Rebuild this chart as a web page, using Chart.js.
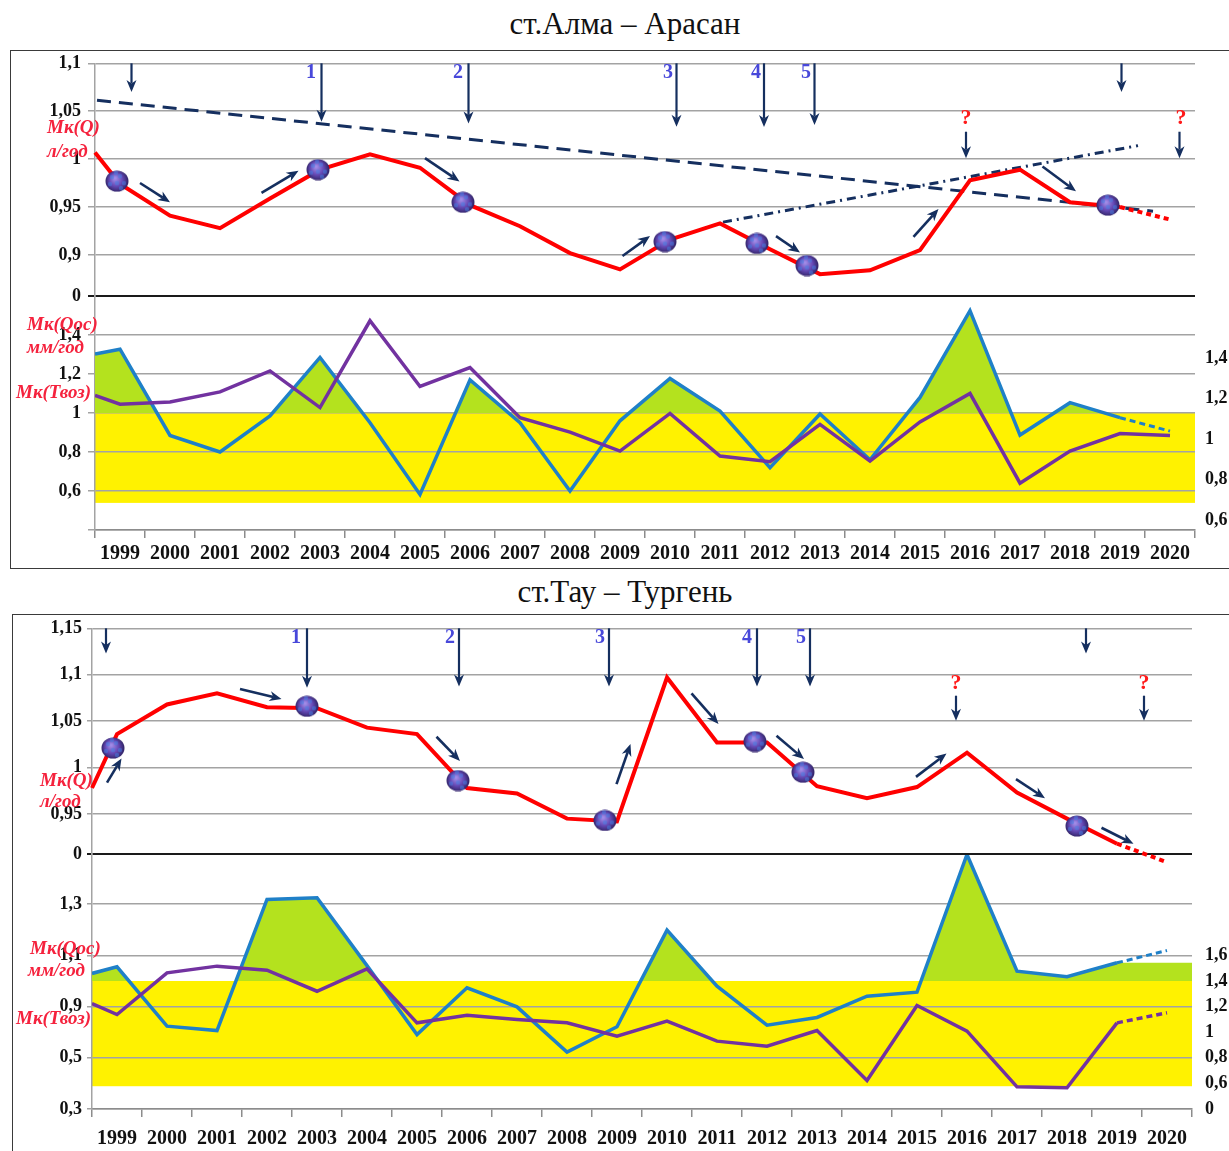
<!DOCTYPE html>
<html><head><meta charset="utf-8">
<script src="https://cdn.jsdelivr.net/npm/chart.js@4.4.1/dist/chart.umd.min.js"></script>
<style>
html,body{margin:0;padding:0;background:#fff;}
body{width:1229px;height:1151px;position:relative;overflow:hidden;font-family:'Liberation Serif','Times New Roman',serif;}
canvas{position:absolute;left:0;}
.box{position:absolute;border:1.5px solid #3a3a3a;box-sizing:border-box;z-index:0;}
.title{position:absolute;font-size:31px;color:#111;white-space:nowrap;transform:translateX(-50%);line-height:36px;z-index:5;}
.ax{position:absolute;color:#f5223d;font-style:italic;font-weight:bold;font-size:19px;white-space:nowrap;line-height:20px;z-index:5;}
</style></head><body>
<div class="box" style="left:10px;top:50px;width:1240px;height:519px"></div>
<div class="box" style="left:12px;top:614px;width:1240px;height:570px"></div>
<div class="title" style="left:625px;top:6px">ст.Алма – Арасан</div>
<div class="title" style="left:625px;top:574px">ст.Тау – Тургень</div>

<canvas id="c1b" width="1229" height="288" style="top:280px;z-index:1"></canvas>
<canvas id="c1a" width="1229" height="262" style="top:50px;z-index:2"></canvas>
<canvas id="c2b" width="1229" height="311" style="top:840px;z-index:1"></canvas>
<canvas id="c2a" width="1229" height="256" style="top:614px;z-index:2"></canvas>

<div class="ax" style="left:47px;top:117px">Мк(Q)</div>
<div class="ax" style="left:47px;top:141px">л/год</div>
<div class="ax" style="left:27px;top:314px">Мк(Qос)</div>
<div class="ax" style="left:27px;top:337px">мм/год</div>
<div class="ax" style="left:16px;top:382px">Мк(Твоз)</div>

<div class="ax" style="left:40px;top:770px">Мк(Q)</div>
<div class="ax" style="left:40px;top:791px">л/год</div>
<div class="ax" style="left:30px;top:938px">Мк(Qос)</div>
<div class="ax" style="left:28px;top:960px">мм/год</div>
<div class="ax" style="left:16px;top:1008px">Мк(Твоз)</div>

<script>
// ---------- DATA ----------
const years = [1999,2000,2001,2002,2003,2004,2005,2006,2007,2008,2009,2010,2011,2012,2013,2014,2015,2016,2017,2018,2019,2020];
const xStart = 1998.5, xEnd = 2020.5;

// ст.Алма – Арасан
const almaQStart = 1.007;
const almaQ = [0.974,0.941,0.928,0.959,0.989,1.005,0.991,0.952,0.930,0.902,0.885,0.916,0.933,0.906,0.880,0.884,0.905,0.978,0.989,0.955,0.950,0.937];
const almaBallX = [1998.94,2002.96,2005.86,2009.9,2011.74,2012.74,2018.76];
const almaBallY = [0.977,0.989,0.955,0.914,0.912,0.889,0.952];
const almaTrendDash = [[1998.54,1.0615],[2019.66,0.9457]];
const almaTrendDashDot = [[2011.06,0.9343],[2019.36,1.0141]];
const almaOStart = 1.302;
const almaO = [1.327,0.885,0.80,0.985,1.285,0.95,0.582,1.17,0.95,0.60,0.96,1.177,1.01,0.72,0.995,0.76,1.08,1.525,0.887,1.053,0.976,0.907];
const almaTStart = 1.09;
const almaT = [1.045,1.057,1.108,1.216,1.028,1.473,1.136,1.233,0.976,0.902,0.805,0.998,0.779,0.75,0.942,0.753,0.954,1.10,0.64,0.805,0.895,0.885];
const almaBand = [0.539, 1.0];
const almaUpperTicks = [0.8572,0.9,0.95,1,1.05,1.1];
const almaUpperLabels = ['0','0,9','0,95','1','1,05','1,1'];
const almaLowerTicks = [0.4,0.6,0.8,1,1.2,1.4,1.6];
const almaLowerLabels = ['','0,6','0,8','1','1,2','1,4',''];
const almaRightTicks = [0.6,0.8,1,1.2,1.4];
const almaRightLabels = ['0,6','0,8','1','1,2','1,4'];
const almaVArrows = [[1999.23,1.1,1.0701],[2003.03,1.1,1.039],[2005.97,1.1,1.0373],[2010.13,1.1,1.0338],[2011.88,1.1,1.0335],[2012.89,1.1,1.0356],[2019.03,1.1,1.0701],[2015.92,1.0286,1.001],[2020.19,1.0286,1.001]];
const almaDArrows = [[1999.4,0.9751,2000.0,0.955],[2001.83,0.9647,2002.57,0.9879],[2005.1,1.001,2005.79,0.9768],[2009.05,0.899,2009.6,0.9197],[2012.12,0.9197,2012.6,0.9025],[2014.87,0.919,2015.37,0.948],[2017.45,0.9923,2018.12,0.9664]];
const almaNums = [['1',2002.82,1.0905],['2',2005.76,1.0905],['3',2009.96,1.0905],['4',2011.72,1.0905],['5',2012.72,1.0905]];
const almaQMarks = [[2015.92,1.0428],[2020.22,1.0428]];

// ст.Тау – Тургень
const tauQStart = 0.978;
const tauQ = [1.036,1.068,1.080,1.065,1.064,1.043,1.036,0.978,0.972,0.945,0.942,1.097,1.027,1.027,0.980,0.967,0.979,1.016,0.973,0.945,0.918,0.898];
const tauBallX = [1998.92,2002.8,2005.82,2008.76,2011.76,2012.72,2018.2];
const tauBallY = [1.021,1.066,0.986,0.943,1.028,0.995,0.937];
const tauOStart = 1.459;
const tauO = [1.511,1.047,1.013,2.037,2.05,1.52,0.982,1.347,1.198,0.844,1.042,1.797,1.359,1.055,1.115,1.281,1.3125,2.388,1.477,1.433,1.542,1.638];
const tauTStart = 1.224;
const tauT = [1.138,1.464,1.516,1.484,1.32,1.495,1.073,1.133,1.099,1.073,0.969,1.086,0.93,0.891,1.013,0.623,1.209,1.008,0.573,0.566,1.073,1.152];
const tauBand = [0.578, 1.4];
const tauGreenExt = 1.542;
const tauUpperTicks = [0.9069,0.95,1,1.05,1.1,1.15];
const tauUpperLabels = ['0','0,95','1','1,05','1,1','1,15'];
const tauLowerTicks = [0.4,0.8,1.2,1.6,2.0,2.392];
const tauLowerLabels = ['0,3','0,5','0,9','1,1','1,3',''];
const tauRightTicks = [0.4,0.6,0.8,1,1.2,1.4,1.6];
const tauRightLabels = ['0','0,6','0,8','1','1,2','1,4','1,6'];
const tauVArrows = [[1998.78,1.15,1.1228],[2002.8,1.15,1.0861],[2005.84,1.15,1.0872],[2008.84,1.15,1.0872],[2011.8,1.15,1.0872],[2012.86,1.15,1.0872],[2018.38,1.15,1.1228],[2015.78,1.0774,1.0504],[2019.54,1.0774,1.0504]];
const tauDArrows = [[1998.8,0.9838,1999.09,1.0097],[2001.46,1.0847,2002.29,1.0739],[2005.39,1.0332,2005.86,1.0072],[2008.99,0.9821,2009.27,1.0253],[2010.49,1.0799,2011.03,1.0469],[2012.19,1.0342,2012.74,1.0091],[2014.98,0.99,2015.59,1.0151],[2016.98,0.9875,2017.56,0.967],[2018.69,0.9352,2019.33,0.9179]];
const tauNums = [['1',2002.58,1.14],['2',2005.66,1.14],['3',2008.66,1.14],['4',2011.6,1.14],['5',2012.68,1.14]];
const tauQMarks = [[2015.78,1.0904],[2019.54,1.0904]];

// ---------- STYLE ----------
const SERIF = "'Liberation Serif','Times New Roman',serif";
const NAVY = '#152f5f', RED = '#ff0000', BLUE = '#1f80c8', PURPLE = '#7232a0';
const YELLOW = '#fff200', GREEN = '#b4e21e', GRID = '#a3a3a3', AXIS = '#8c8c8c';
const halfTicks = []; for (let i = 0; i <= (xEnd - xStart) * 2; i++) halfTicks.push(xStart + i / 2);

function series(start, vals){ return [{x:xStart,y:start}].concat(years.map((yr,i)=>({x:yr,y:vals[i]}))); }
function pts(xs, ys){ return xs.map((x,i)=>({x:x,y:ys[i]})); }
function zp(s){ s.paddingTop=0; s.paddingBottom=0; s.paddingLeft=0; s.paddingRight=0; }

function makeBall(){
  const c=document.createElement('canvas'); c.width=24; c.height=22;
  const g=c.getContext('2d');
  const grd=g.createRadialGradient(10,8,1,12,11,12.5);
  grd.addColorStop(0,'#a08ae6'); grd.addColorStop(0.5,'#6448b4'); grd.addColorStop(1,'#261c56');
  g.fillStyle=grd; g.beginPath(); g.ellipse(12,11,11.5,10.5,0,0,Math.PI*2); g.fill();
  g.fillStyle='rgba(70,130,230,0.5)';
  [[7,7],[15,6],[12,13],[5,14],[19,13],[11,3],[16,18]].forEach(p=>{g.beginPath();g.arc(p[0],p[1],2.2,0,Math.PI*2);g.fill();});
  return c;
}

function drawArrow(ctx,x1,y1,x2,y2,color,lw){
  const a=Math.atan2(y2-y1,x2-x1), L=12, W=5, N=3.5;
  ctx.save(); ctx.strokeStyle=color; ctx.fillStyle=color; ctx.lineWidth=lw;
  ctx.beginPath(); ctx.moveTo(x1,y1); ctx.lineTo(x2-Math.cos(a)*(L-N), y2-Math.sin(a)*(L-N)); ctx.stroke();
  ctx.translate(x2,y2); ctx.rotate(a);
  ctx.beginPath(); ctx.moveTo(0,0); ctx.lineTo(-L,-W); ctx.lineTo(-L+N,0); ctx.lineTo(-L,W); ctx.closePath(); ctx.fill();
  ctx.restore();
}

function annotPlugin(o){
  return {id:'annot', afterDatasetsDraw(chart){
    const ctx=chart.ctx, xs=chart.scales.x, ys=chart.scales.y;
    const X=v=>xs.getPixelForValue(v), Y=v=>ys.getPixelForValue(v);
    o.v.forEach(a=>drawArrow(ctx,X(a[0]),Y(a[1]),X(a[0]),Y(a[2]),NAVY,2.2));
    o.d.forEach(a=>drawArrow(ctx,X(a[0]),Y(a[1]),X(a[2]),Y(a[3]),NAVY,2.6));
    ctx.save(); ctx.textAlign='center'; ctx.textBaseline='middle';
    ctx.font='bold 20px '+SERIF; ctx.fillStyle='#4848da';
    o.nums.forEach(n=>ctx.fillText(n[0],X(n[1]),Y(n[2])));
    ctx.font='bold 22px '+SERIF; ctx.fillStyle='#ff1a1a';
    o.qm.forEach(n=>ctx.fillText('?',X(n[0]),Y(n[1])));
    ctx.restore();
  }};
}

function bandPlugin(axis, lo, hi){
  return {id:'band', beforeDraw(chart){
    const ctx=chart.ctx, xs=chart.scales.x, ys=chart.scales[axis];
    const x1=xs.getPixelForValue(xStart), x2=xs.getPixelForValue(xEnd);
    const y1=ys.getPixelForValue(hi), y2=ys.getPixelForValue(lo);
    ctx.save(); ctx.fillStyle=YELLOW; ctx.fillRect(x1,y1,x2-x1,y2-y1); ctx.restore();
  }};
}

const tickFont = {family:SERIF,size:18,weight:'bold'};

function upperChart(id,o){
  const ball=makeBall();
  const ds=[
    {data:pts(o.ballX,o.ballY), showLine:false, pointStyle:ball, pointRadius:11, clip:false},
    {data:series(o.qStart,o.q), borderColor:RED, borderWidth:4, pointRadius:0, clip:false,
     segment:{borderDash:c=>c.p1DataIndex===o.q.length?[5,4]:undefined}}
  ];
  (o.trends||[]).forEach(t=>ds.push({data:t.p.map(p=>({x:p[0],y:p[1]})), borderColor:NAVY, borderWidth:3, borderDash:t.dash, pointRadius:0}));
  new Chart(document.getElementById(id),{
    type:'line', data:{datasets:ds},
    options:{responsive:false, animation:false, events:[],
      layout:{padding:{top:o.padTop,bottom:o.padBottom,left:0,right:o.padRight}},
      plugins:{legend:{display:false},tooltip:{enabled:false}},
      scales:{
        x:{type:'linear',display:false,min:xStart,max:xEnd},
        y:{type:'linear',min:o.ticks[0],max:o.ticks[o.ticks.length-1],
          afterBuildTicks:s=>{s.ticks=o.ticks.map(v=>({value:v}));},
          afterFit:s=>{s.width=o.left; zp(s);},
          grid:{color:c=>(c.tick&&c.tick.value===o.ticks[0])?'#1a1a1a':GRID, lineWidth:c=>(c.tick&&c.tick.value===o.ticks[0])?2:1.5, tickLength:o.tl, drawTicks:true},
          border:{display:true,color:GRID,width:1.5},
          ticks:{autoSkip:false,padding:o.tp,color:'#111',font:tickFont,callback:(v,i)=>o.labels[i]}}
      }},
    plugins:[annotPlugin(o)]
  });
}

function lowerChart(id,o){
  const n=years.length;
  const ax=o.dataAxis;
  const ds=[
    {data:series(o.tStart,o.t), yAxisID:ax, borderColor:PURPLE, borderWidth:3.5, pointRadius:0,
     segment:{borderDash:c=>(o.tDash&&c.p1DataIndex===n)?[6,4]:undefined}},
    {data:series(o.oStart,o.o).slice(0,n), yAxisID:ax, borderColor:BLUE, borderWidth:3.5, pointRadius:0,
     fill:{target:{value:o.band[1]},above:GREEN,below:'rgba(0,0,0,0)'}},
    {data:[{x:years[n-2],y:o.o[n-2]},{x:years[n-1],y:o.o[n-1]}], yAxisID:ax, borderColor:BLUE, borderWidth:3, borderDash:[6,4], pointRadius:0}
  ];
  if(o.greenExt) ds.push({data:[{x:years[n-2],y:o.greenExt},{x:xEnd+0.1,y:o.greenExt}], yAxisID:ax, borderWidth:0, pointRadius:0, clip:false,
     fill:{target:{value:o.band[1]},above:GREEN,below:'rgba(0,0,0,0)'}});
  new Chart(document.getElementById(id),{
    type:'line', data:{datasets:ds},
    options:{responsive:false, animation:false, events:[],
      layout:{padding:{top:o.padTop,bottom:0,left:0,right:0}},
      plugins:{legend:{display:false},tooltip:{enabled:false}},
      scales:{
        x:{type:'linear',position:'bottom',min:xStart,max:xEnd,
          afterBuildTicks:s=>{s.ticks=halfTicks.map(v=>({value:v}));},
          afterFit:s=>{s.height=o.xh; zp(s);},
          grid:{drawOnChartArea:false,drawTicks:true,tickLength:8,lineWidth:1.5,
            color:c=>(c.tick&&Number.isInteger(c.tick.value))?'rgba(0,0,0,0)':AXIS},
          border:{display:true,color:AXIS,width:1.5},
          ticks:{autoSkip:false,maxRotation:0,minRotation:0,padding:o.xpad,color:'#111',
            font:{family:SERIF,size:20,weight:'bold'},callback:v=>Number.isInteger(v)?String(v):''}},
        y:{type:'linear',position:'left',min:o.lmin,max:o.lmax,
          afterBuildTicks:s=>{s.ticks=o.lticks.map(v=>({value:v}));},
          afterFit:s=>{s.width=o.left; zp(s);},
          grid:{color:GRID,lineWidth:1.5,tickLength:o.tl,drawTicks:true},
          border:{display:true,color:GRID,width:1.5},
          ticks:{autoSkip:false,padding:o.tp,color:'#111',font:tickFont,callback:(v,i)=>o.llabels[i]}},
        y1:{type:'linear',position:'right',min:o.rmin,max:o.rmax,
          afterBuildTicks:s=>{s.ticks=o.rticks.map(v=>({value:v}));},
          afterFit:s=>{s.width=o.right; zp(s);},
          grid:{display:false,drawTicks:false,drawOnChartArea:false},
          border:{display:false},
          ticks:{autoSkip:false,padding:o.rp,color:'#111',font:tickFont,callback:(v,i)=>o.rlabels[i]}}
      }},
    plugins:[bandPlugin(ax,o.band[0],o.band[1])]
  });
}

upperChart('c1a',{q:almaQ,qStart:almaQStart,ballX:almaBallX,ballY:almaBallY,
  ticks:almaUpperTicks,labels:almaUpperLabels,padTop:13.3,padBottom:16,padRight:34,left:95,tl:7,tp:7,
  trends:[{p:almaTrendDash,dash:[14,8]},{p:almaTrendDashDot,dash:[9,5,2,5]}],
  v:almaVArrows,d:almaDArrows,nums:almaNums,qm:almaQMarks});

lowerChart('c1b',{t:almaT,tStart:almaTStart,o:almaO,oStart:almaOStart,tDash:false,dataAxis:'y',band:almaBand,
  padTop:16,xh:38,xpad:4,left:95,right:34,tl:7,tp:7,rp:10,
  lmin:0.4,lmax:1.6,lticks:almaLowerTicks,llabels:almaLowerLabels,
  rmin:0.5506,rmax:1.706,rticks:almaRightTicks,rlabels:almaRightLabels});

upperChart('c2a',{q:tauQ,qStart:tauQStart,ballX:tauBallX,ballY:tauBallY,
  ticks:tauUpperTicks,labels:tauUpperLabels,padTop:14.3,padBottom:16,padRight:37,left:92,tl:5,tp:5,
  trends:[],v:tauVArrows,d:tauDArrows,nums:tauNums,qm:tauQMarks});

lowerChart('c2b',{t:tauT,tStart:tauTStart,o:tauO,oStart:tauOStart,tDash:true,dataAxis:'y1',band:tauBand,greenExt:tauGreenExt,
  padTop:14,xh:42,xpad:10,left:92,right:37,tl:5,tp:5,rp:13,
  lmin:0.4,lmax:2.392,lticks:tauLowerTicks,llabels:tauLowerLabels,
  rmin:0.4,rmax:2.392,rticks:tauRightTicks,rlabels:tauRightLabels});
</script>
</body></html>
